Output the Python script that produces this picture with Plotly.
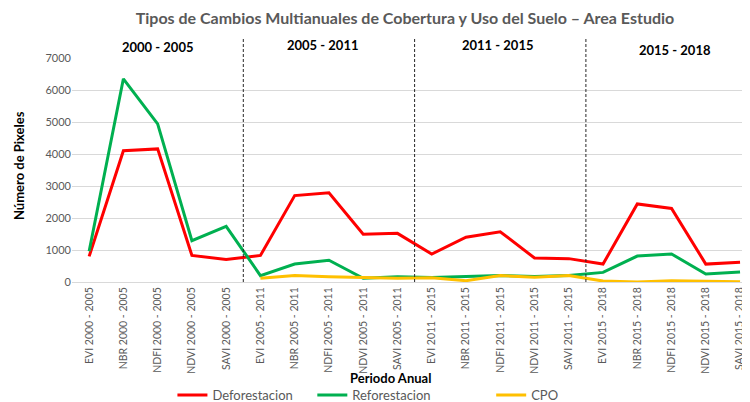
import plotly.graph_objects as go

categories = [
    "EVI 2000 - 2005", "NBR 2000 - 2005", "NDFI 2000 - 2005", "NDVI 2000 - 2005", "SAVI 2000 - 2005",
    "EVI 2005 - 2011", "NBR 2005 - 2011", "NDFI 2005 - 2011", "NDVI 2005 - 2011", "SAVI 2005 - 2011",
    "EVI 2011 - 2015", "NBR 2011 - 2015", "NDFI 2011 - 2015", "NDVI 2011 - 2015", "SAVI 2011 - 2015",
    "EVI 2015 - 2018", "NBR 2015 - 2018", "NDFI 2015 - 2018", "NDVI 2015 - 2018", "SAVI 2015 - 2018",
]
deforestacion = [800, 4100, 4160, 830, 700, 830, 2700, 2790, 1490, 1520,
                 875, 1400, 1570, 750, 730, 560, 2440, 2300, 560, 620]
reforestacion = [960, 6350, 4940, 1290, 1740, 200, 560, 680, 115, 165,
                 140, 180, 200, 175, 200, 300, 810, 875, 250, 310]
cpo = [None, None, None, None, None, 115, 200, 165, 140, 115,
       130, 40, 200, 150, 200, 30, 0, 40, 25, 5]
periods = ["2000 - 2005", "2005 - 2011", "2011 - 2015", "2015 - 2018"]
period_pos = [2.02, 6.83, 11.93, 17.1]
period_y = [1.049, 1.058, 1.058, 1.036]
y_ticks = [0, 1000, 2000, 3000, 4000, 5000, 6000, 7000]

FONT = "Lato"
GRAY = "#595959"

# the page body has an 8px margin, so the figure is 742x394 placed at (8, 8)
W, H = 742, 394
L, T, B = 63.5, 50, 120
PW = W - L
OFF = 8


def px(page_x):
    return (page_x - OFF - L) / PW


fig = go.Figure()
fig.add_trace(go.Scatter(x=categories, y=deforestacion, mode="lines", name="Deforestacion",
                         line=dict(color="#FF0000", width=3), legend="legend"))
fig.add_trace(go.Scatter(x=categories, y=reforestacion, mode="lines", name="Reforestacion",
                         line=dict(color="#00B050", width=3), legend="legend2"))
fig.add_trace(go.Scatter(x=categories, y=cpo, mode="lines", name="CPO",
                         line=dict(color="#FFC000", width=3), legend="legend3"))

for xv in [4.5, 9.5, 14.5]:
    fig.add_shape(type="line", xref="x", yref="paper", x0=xv, x1=xv, y0=0, y1=1.09,
                  line=dict(color="#262626", width=1, dash="3px,2px"))

for p, xp, yp in zip(periods, period_pos, period_y):
    fig.add_annotation(text="<b>" + p + "</b>", xref="x", yref="paper", x=xp, y=yp,
                       showarrow=False, font=dict(family=FONT, size=13, color="#000000"),
                       xanchor="center", yanchor="middle")

fig.add_annotation(text="<b>Número de Pixeles</b>", xref="paper", yref="paper",
                   x=px(18), y=0.52, textangle=-90, showarrow=False,
                   font=dict(family=FONT, size=13, color="#000000"),
                   xanchor="center", yanchor="middle")
fig.add_annotation(text="<b>Periodo Anual</b>", xref="paper", yref="paper",
                   x=px(390), y=-0.43, showarrow=False,
                   font=dict(family=FONT, size=13, color="#000000"),
                   xanchor="center", yanchor="middle")

leg_common = dict(orientation="h", xanchor="left", y=-0.505, yanchor="middle",
                  font=dict(family=FONT, size=13, color=GRAY), itemwidth=30,
                  bgcolor="rgba(0,0,0,0)", borderwidth=0)

fig.update_layout(
    width=W, height=H,
    margin=dict(l=L, r=0, t=T, b=B, autoexpand=False),
    paper_bgcolor="white", plot_bgcolor="white",
    title=dict(text="<b>Tipos de Cambios Multianuales de Cobertura y Uso del Suelo – Area Estudio</b>",
               x=397 / W, xanchor="center", y=1 - 10 / H, yanchor="middle",
               font=dict(family=FONT, size=16, color=GRAY)),
    font=dict(family=FONT, color=GRAY),
    showlegend=True,
    legend=dict(x=px(172), **leg_common),
    legend2=dict(x=px(312), **leg_common),
    legend3=dict(x=px(491), **leg_common),
    xaxis=dict(type="category", range=[-0.5, 19.29], tickangle=-90, automargin=False,
               tickfont=dict(family=FONT, size=10.5, color=GRAY),
               showgrid=False, showline=True, linecolor="#d9d9d9", linewidth=1,
               ticks="", ticklen=0, fixedrange=True),
    yaxis=dict(range=[0, 7000], tickvals=y_ticks, ticktext=[str(v) for v in y_ticks],
               automargin=False,
               tickfont=dict(family=FONT, size=11, color=GRAY),
               showgrid=True, gridcolor="#d9d9d9", gridwidth=1, zeroline=False,
               showline=False, ticks="", ticklen=0, fixedrange=True),
)

fig.write_html("out.html")
